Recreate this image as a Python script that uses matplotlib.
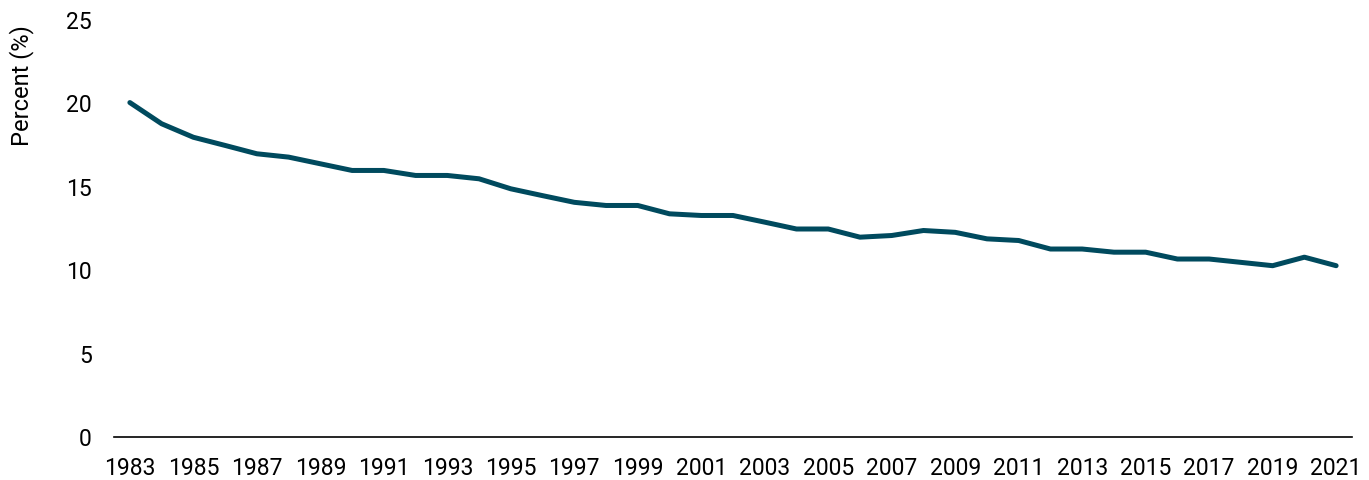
import matplotlib
matplotlib.use("Agg")
import matplotlib.pyplot as plt

years = list(range(1983, 2022))
percent = [20.05, 18.78, 17.97, 17.48, 16.98, 16.78, 16.38, 15.98, 15.98, 15.68,
           15.68, 15.48, 14.88, 14.47, 14.07, 13.88, 13.88, 13.38, 13.28, 13.28,
           12.88, 12.47, 12.47, 11.98, 12.08, 12.38, 12.27, 11.88, 11.78, 11.27,
           11.27, 11.08, 11.08, 10.67, 10.67, 10.47, 10.27, 10.78, 10.27]
xtick_years = list(range(1983, 2022, 2))
yticks = [0, 5, 10, 15, 20, 25]

plt.rcParams['font.family'] = ['Roboto', 'DejaVu Sans']

fig = plt.figure(figsize=(13.69, 4.8), dpi=100)
ax = fig.add_axes([114 / 1369, 43 / 480, (1352 - 114) / 1369, 417 / 480])

ax.plot(years, percent, color='#004A5E', linewidth=3.6, solid_capstyle='round',
        solid_joinstyle='round')

ax.set_xlim(1982.5, 2021.5)
ax.set_ylim(0, 25)
ax.set_xticks(xtick_years)
ax.set_xticklabels([str(y) for y in xtick_years])
ax.set_yticks(yticks)
ax.set_yticklabels([str(v) for v in yticks])

for s in ['top', 'right', 'left']:
    ax.spines[s].set_visible(False)
ax.spines['bottom'].set_color('#000000')
ax.spines['bottom'].set_linewidth(1.2)

ax.tick_params(axis='both', length=0, labelsize=16.5, colors='#000000')
ax.tick_params(axis='x', pad=14.5)
ax.tick_params(axis='y', pad=16)

ax.set_ylabel('Percent (%)', fontsize=17)
ax.yaxis.set_label_coords(-0.065, 0.843)

fig.savefig('out.png', dpi=100, facecolor='white')
